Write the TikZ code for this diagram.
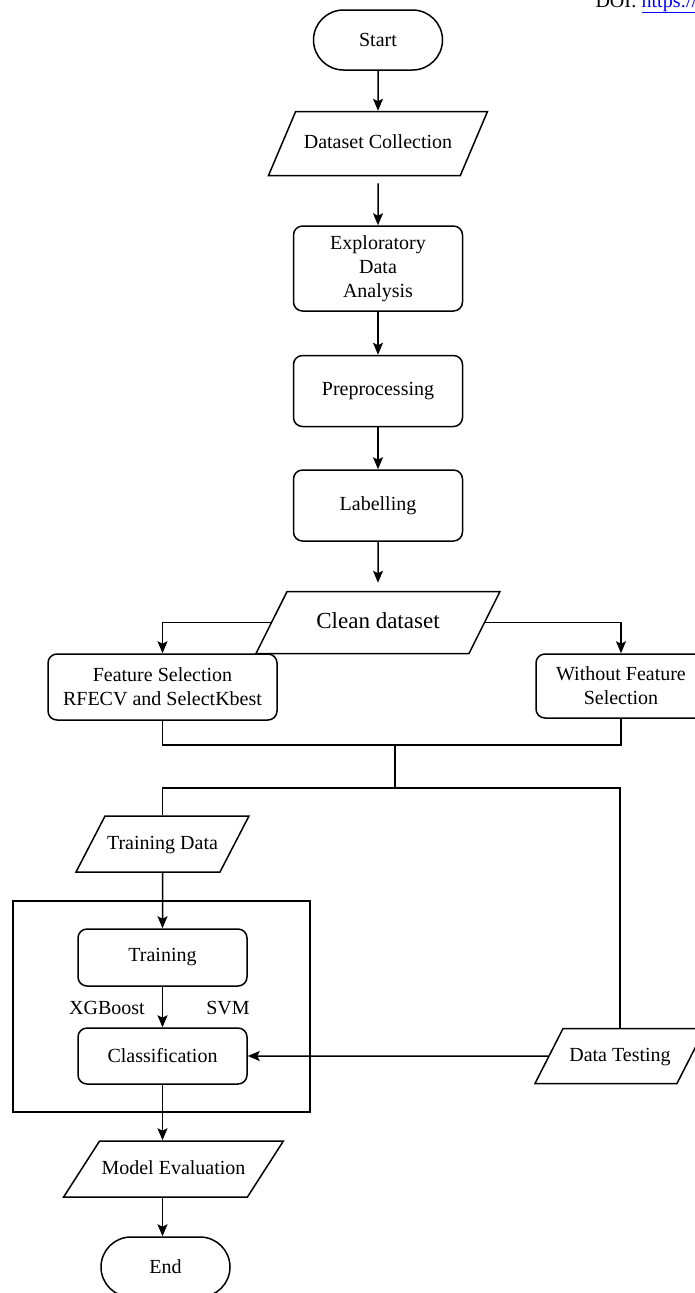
\documentclass[tikz,border=0pt]{standalone}
\usepackage{fontspec}
\setmainfont{Liberation Serif}
\usepackage{xcolor}
\definecolor{lineBlack}{HTML}{000000}
\definecolor{linkBlue}{HTML}{0000FF}
\usepackage{tikz}
\usetikzlibrary{
    shapes.geometric,
    shapes.misc,
    arrows.meta,
    positioning
}
\tikzset{
    % Base style for all nodes
    flow base/.style={
        font=\fontsize{20}{24}\selectfont,
        align=center,
        text=black,
        draw=lineBlack,
        line width=1.5pt,
        inner sep=2pt,
    },
    % Start/End nodes - pill
    terminal/.style={
        flow base,
        rounded rectangle,
        minimum width=133pt,
        minimum height=60pt,
    },
    % Process nodes - rounded rectangle
    process/.style={
        flow base,
        rectangle,
        rounded corners=9pt,
        minimum width=169pt,
    },
    % Data nodes - parallelogram, height set by inner ysep
    io/.style={
        flow base,
        trapezium,
        trapezium left angle=#1,
        trapezium right angle={180-#1},
        trapezium stretches body,
        text height=14pt,
        text depth=4pt,
    },
    io/.default=63,
    % Arrow style
    arrow/.style={
        -{Stealth[length=12pt, width=10pt, inset=2.5pt]},
        line width=1.5pt,
        draw=lineBlack,
    },
    % Plain connector
    line/.style={
        line width=1.5pt,
        draw=lineBlack,
    },
    % Label style for the classifiers
    edge label/.style={
        font=\fontsize{20}{24}\selectfont,
        inner sep=0pt,
    },
}

\begin{document}
\begin{tikzpicture}[x=1pt, y=-1pt]
    \useasboundingbox (0,0) rectangle (695,1293);
    \node (doi) [anchor=base west, font=\fontsize{20}{24}\selectfont] at (592,7) {DOI: \textcolor{linkBlue}{\underline{https://}}};

    \node (start) [terminal] at (378,40) {Start};
    \node (collect) [io=67, minimum width=219pt, inner ysep=23pt, below=40pt of start] {Dataset Collection};
    \node (eda) [process, minimum height=85pt, below=49pt of collect] {Exploratory\\Data\\Analysis};
    \node (preprocess) [process, minimum height=71pt, below=43pt of eda] {Preprocessing};
    \node (labelling) [process, minimum height=71pt, below=42pt of preprocess] {Labelling};
    \node (clean) [io=63.4, minimum width=244pt, inner ysep=20.5pt, font=\fontsize{23}{27}\selectfont, text height=16pt, text depth=5pt, below=49pt of labelling] {Clean dataset};

    \node (fselect) [process, minimum width=229pt, minimum height=66pt] at (162.5,687) {Feature Selection\\RFECV and SelectKbest};
    \node (nofselect) [process, minimum width=170pt, minimum height=64pt] at (621,686) {Without Feature\\Selection};
    \coordinate (join) at (395,745);
    \coordinate (split) at (395,788);

    \node (train_data) [io=62.6, minimum width=171pt, inner ysep=19pt] at (162.5,844) {Training Data};
    \node (modelbox) [draw=lineBlack, line width=1.5pt, minimum width=297pt, minimum height=211pt] at (161.5,1006.5) {};
    \node (training) [process, minimum height=57pt] at (162.5,957.5) {Training};
    \node (classify) [process, minimum height=56pt] at (162.5,1056) {Classification};
    \node (xgb) [edge label] at (107,1008) {XGBoost};
    \node (svm) [edge label] at (228,1008) {SVM};
    \node (test_data) [io, minimum width=170pt, inner ysep=18.5pt] at (620,1056) {Data Testing};
    \node (evaluate) [io=57.3, minimum width=215pt, inner ysep=19pt] at (173.5,1169) {Model Evaluation};
    \node (stop) [terminal] at (165.5,1267) {End};

    \draw [arrow] (start) -- (collect);
    \draw [arrow, shorten <=7pt] (collect) -- (eda);
    \draw [arrow] (eda) -- (preprocess);
    \draw [arrow] (preprocess) -- (labelling);
    \draw [arrow, shorten >=8pt] (labelling) -- (clean);
    \draw [arrow] (clean) -| (fselect);
    \draw [arrow] (clean) -| (nofselect);
    \draw [line] (fselect.south) |- (join) -| (nofselect.south);
    \draw [line] (join) -- (split);
    \draw [line] (train_data.north) |- (split) -| (test_data.north);
    \draw [arrow] (train_data) -- (training);
    \draw [arrow] (training) -- (classify);
    \draw [arrow] (test_data) -- (classify);
    \draw [arrow] (classify.south) -- (classify.south |- evaluate.north);
    \draw [arrow] (classify.south |- evaluate.south) -- (classify.south |- stop.north);
\end{tikzpicture}
\end{document}
